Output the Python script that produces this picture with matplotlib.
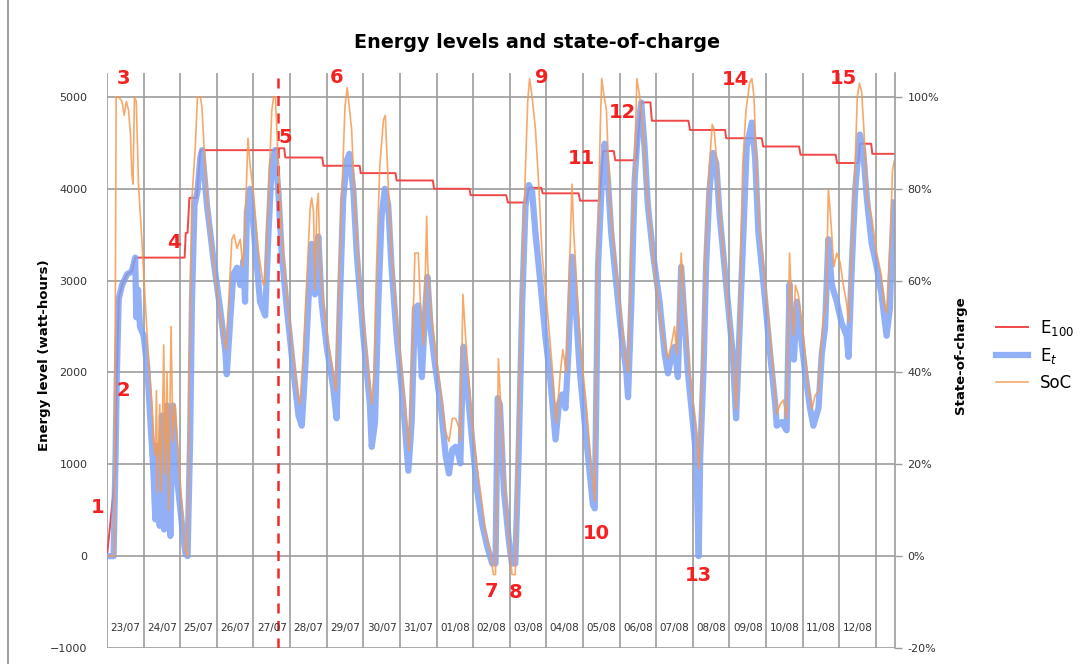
import numpy as np
import matplotlib.pyplot as plt

# time axis in days from 23/07 00:00
day_labels = ['23/07', '24/07', '25/07', '26/07', '27/07', '28/07', '29/07', '30/07',
              '31/07', '01/08', '02/08', '03/08', '04/08', '05/08', '06/08', '07/08',
              '08/08', '09/08', '10/08', '11/08', '12/08']

# E_t (watt-hours)
t_et = [0, 0.18, 0.23, 0.27, 0.32, 0.41, 0.55, 0.68, 0.77, 0.8, 0.85, 0.9,
        1.0, 1.1, 1.18, 1.27, 1.32, 1.36, 1.44, 1.5, 1.56, 1.64, 1.73, 1.8, 1.9,
        2.05, 2.14, 2.2, 2.27, 2.32, 2.39, 2.47, 2.55, 2.6, 2.73, 2.91,
        3.09, 3.23, 3.27, 3.36, 3.45, 3.55, 3.64, 3.73, 3.77, 3.82, 3.91,
        4.0, 4.18, 4.32, 4.41, 4.5, 4.59, 4.68, 4.77, 4.91,
        5.09, 5.23, 5.32, 5.41, 5.5, 5.59, 5.68, 5.77, 5.86,
        6.0, 6.18, 6.27, 6.36, 6.45, 6.55, 6.62, 6.73, 6.82,
        7.0, 7.18, 7.23, 7.32, 7.41, 7.5, 7.59, 7.68, 7.77, 7.91,
        8.09, 8.23, 8.32, 8.41, 8.5, 8.6, 8.68, 8.75, 8.84, 8.98,
        9.11, 9.25, 9.34, 9.43, 9.52, 9.61, 9.65, 9.73, 9.84, 9.97,
        10.11, 10.25, 10.38, 10.52, 10.61, 10.67, 10.73, 10.84, 10.98,
        11.06, 11.15, 11.24, 11.34, 11.43, 11.52, 11.61, 11.7, 11.84, 11.97,
        12.11, 12.25, 12.34, 12.43, 12.52, 12.6, 12.7, 12.79, 12.91,
        13.09, 13.27, 13.32, 13.36, 13.41, 13.5, 13.59, 13.68, 13.77, 13.91,
        14.05, 14.18, 14.23, 14.32, 14.41, 14.5, 14.59, 14.68, 14.77, 14.91,
        15.09, 15.23, 15.32, 15.41, 15.5, 15.59, 15.68, 15.77, 15.86,
        16.0, 16.09, 16.16, 16.2, 16.29, 16.36, 16.45, 16.55, 16.64, 16.73, 16.91,
        17.09, 17.18, 17.27, 17.38, 17.47, 17.61, 17.7, 17.79, 17.93,
        18.11, 18.25, 18.29, 18.43, 18.56, 18.64, 18.7, 18.76, 18.84, 18.93,
        19.06, 19.2, 19.29, 19.43, 19.52, 19.61, 19.7, 19.79, 19.93,
        20.06, 20.2, 20.25, 20.34, 20.43, 20.56, 20.65, 20.75, 20.88,
        21.02, 21.15, 21.29, 21.38, 21.43, 21.49]
et = [0, 0, 1000, 2000, 2800, 2950, 3070, 3100, 3250, 2600, 2900, 2500,
      2400, 2050, 1500, 900, 400, 1200, 330, 1530, 290, 1640, 220, 1640, 900,
      330, 30, 0, 1270, 2770, 3820, 3970, 4340, 4420, 3820, 3220,
      2690, 2240, 1980, 2540, 3070, 3140, 2950, 3220, 2770, 3740, 4000,
      3590, 2770, 2620, 3520, 4270, 4420, 3970, 3300, 2700,
      2020, 1530, 1420, 2020, 2770, 3400, 2850, 3480, 2770,
      2280, 1830, 1500, 2770, 3890, 4310, 4380, 3970, 3300,
      2400, 1650, 1190, 1460, 2770, 3710, 4000, 3820, 3150, 2400,
      1650, 930, 1460, 2700, 2730, 1950, 2600, 3040, 2470, 2020,
      1650, 1090, 900, 1160, 1190, 1090, 1010, 2280, 1830, 1270,
      710, 340, 110, -80, -80, 1720, 1650, 710, 150,
      -80, -80, 1090, 2770, 3820, 4040, 3970, 3520, 2960, 2400,
      1910, 1270, 1650, 1760, 1610, 2200, 3260, 2770, 2020,
      1270, 560, 520, 1650, 3150, 3970, 4490, 4090, 3520, 2960,
      2400, 2020, 1730, 2770, 4090, 4640, 4940, 4460, 3820, 3300,
      2770, 2200, 1990, 2170, 2280, 1950, 3150, 2590, 2020,
      1460, 1090, 0, 1090, 2020, 3150, 3970, 4390, 4270, 3710, 2960,
      2200, 1500, 2400, 3520, 4460, 4720, 4340, 3520, 2960,
      2200, 1650, 1420, 1460, 1370, 2960, 2170, 2140, 2770, 2470,
      2020, 1610, 1420, 1610, 2200, 2490, 3450, 2960, 2770,
      2540, 2400, 2170, 3150, 3970, 4590, 4420, 3900, 3410,
      3150, 2850, 2400, 2700, 3300, 3850]

# state-of-charge (%)
t_soc = [0, 0.2, 0.25, 0.32, 0.41, 0.47, 0.53, 0.59, 0.64, 0.68, 0.71, 0.75, 0.8, 0.86, 0.95,
         1.05, 1.14, 1.23, 1.27, 1.32, 1.35, 1.38, 1.44, 1.48, 1.55, 1.59, 1.64, 1.68, 1.75, 1.8, 1.86, 1.95,
         2.05, 2.14, 2.2, 2.25, 2.32, 2.41, 2.47, 2.55, 2.59, 2.68, 2.77, 2.91,
         3.05, 3.18, 3.25, 3.32, 3.41, 3.47, 3.55, 3.64, 3.71, 3.77, 3.85, 3.91,
         4.0, 4.14, 4.27, 4.32, 4.41, 4.5, 4.55, 4.6, 4.68, 4.77, 4.91,
         5.05, 5.18, 5.27, 5.36, 5.45, 5.55, 5.59, 5.64, 5.68, 5.73, 5.77, 5.82, 5.91,
         6.05, 6.18, 6.25, 6.32, 6.41, 6.5, 6.56, 6.68, 6.77, 6.91,
         7.09, 7.23, 7.29, 7.36, 7.45, 7.55, 7.6, 7.68, 7.77, 7.91,
         8.05, 8.18, 8.25, 8.32, 8.41, 8.5, 8.56, 8.65, 8.73, 8.76, 8.84, 8.98,
         9.11, 9.25, 9.34, 9.43, 9.52, 9.61, 9.65, 9.72, 9.79, 9.93,
         10.06, 10.2, 10.34, 10.47, 10.55, 10.61, 10.69, 10.75, 10.84, 10.98,
         11.06, 11.15, 11.22, 11.34, 11.43, 11.49, 11.54, 11.61, 11.7, 11.79, 11.88,
         12.02, 12.15, 12.27, 12.38, 12.45, 12.54, 12.6, 12.7, 12.75, 12.88, 12.95,
         13.09, 13.23, 13.32, 13.36, 13.41, 13.47, 13.51, 13.56, 13.64, 13.73, 13.86,
         14.0, 14.14, 14.23, 14.32, 14.41, 14.47, 14.55, 14.64, 14.73, 14.86,
         15.0, 15.18, 15.32, 15.41, 15.5, 15.56, 15.68, 15.77, 15.91,
         16.05, 16.11, 16.16, 16.2, 16.29, 16.36, 16.45, 16.53, 16.58, 16.64, 16.73, 16.91,
         17.09, 17.18, 17.27, 17.36, 17.45, 17.55, 17.61, 17.67, 17.75, 17.84, 17.93,
         18.06, 18.2, 18.29, 18.38, 18.47, 18.56, 18.64, 18.7, 18.75, 18.8, 18.88,
         19.02, 19.15, 19.25, 19.34, 19.43, 19.55, 19.64, 19.7, 19.76, 19.85, 19.93,
         20.02, 20.11, 20.2, 20.25, 20.34, 20.43, 20.49, 20.55, 20.61, 20.67, 20.76, 20.88,
         21.02, 21.15, 21.22, 21.29, 21.34, 21.4, 21.45, 21.5]
soc = [0, 0, 100, 100, 99, 96, 99, 97, 92, 83, 81, 100, 99, 81, 69,
       55, 42, 33, 25, 22, 36, 14, 33, 14, 46, 18, 40, 10, 50, 25, 33, 22,
       10, 1, 0, 40, 78, 89, 100, 100, 98, 85, 74, 64,
       55, 48, 45, 55, 69, 70, 67, 69, 63, 72, 91, 85,
       79, 66, 59, 60, 78, 97, 100, 100, 85, 70, 57,
       46, 37, 33, 44, 59, 76, 78, 75, 58, 76, 79, 63, 55,
       46, 40, 36, 55, 78, 98, 102, 93, 76, 59,
       44, 33, 40, 63, 85, 95, 96, 81, 66, 52,
       40, 29, 23, 40, 66, 66, 55, 46, 74, 63, 54, 44,
       36, 27, 25, 30, 30, 28, 25, 57, 48, 33,
       22, 14, 5, 1, -4, -4, 43, 33, 18, 3,
       -4, -4, 25, 59, 85, 99, 104, 100, 93, 81, 66,
       54, 42, 29, 40, 45, 40, 55, 81, 70, 52, 44,
       33, 19, 12, 40, 70, 93, 104, 101, 97, 78, 66,
       55, 44, 40, 66, 85, 104, 100, 93, 81, 70,
       59, 48, 43, 46, 50, 44, 66, 55, 40,
       31, 27, 19, 25, 48, 70, 85, 94, 93, 87, 76, 59,
       44, 32, 50, 85, 97, 103, 104, 100, 81, 70, 63,
       52, 40, 31, 33, 34, 30, 66, 54, 48, 59, 57,
       48, 37, 32, 35, 36, 51, 55, 80, 74, 63, 66,
       64, 59, 55, 51, 66, 85, 100, 103, 101, 93, 78, 74,
       66, 61, 55, 53, 61, 70, 84, 86]

# E_100 (watt-hours)
t_e100 = [0, 0.2, 0.23, 0.27, 0.32, 0.41, 0.55, 0.68, 0.77, 2.12, 2.15, 2.2, 2.25, 2.45, 2.55,
          4.59, 4.62, 4.84, 4.87, 5.88, 5.91, 6.9, 6.93, 7.88, 7.91, 8.9, 8.93, 9.9, 9.93,
          10.9, 10.95, 11.45, 11.52, 11.86, 11.9, 12.88, 12.92, 13.45, 13.55, 13.84, 13.88,
          14.45, 14.59, 14.84, 14.88, 15.88, 15.92, 16.88, 16.91, 17.88, 17.92, 18.9, 18.94,
          19.9, 19.94, 20.52, 20.56, 20.87, 20.9, 21.49]
e100 = [0, 800, 1000, 2000, 2800, 2950, 3070, 3100, 3250, 3250, 3520, 3520, 3900, 3900, 4420,
        4420, 4440, 4440, 4340, 4340, 4250, 4250, 4170, 4170, 4090, 4090, 4000, 4000, 3930,
        3930, 3850, 3850, 4010, 4010, 3950, 3950, 3870, 3870, 4410, 4410, 4310,
        4310, 4940, 4940, 4740, 4740, 4640, 4640, 4550, 4550, 4460, 4460, 4370,
        4370, 4280, 4280, 4490, 4490, 4380, 4380]

# numbered events
event_labels = ['1', '2', '3', '4', '5', '6', '7', '8', '9', '10', '11', '12', '13', '14', '15']
event_t = [-0.25, 0.44, 0.44, 1.83, 4.86, 6.28, 10.49, 11.17, 11.88, 13.35, 12.97, 14.09, 16.14, 17.15, 20.1]
event_e = [530, 1800, 5200, 3410, 4553, 5207, -381, -392, 5207, 250, 4325, 4826, -207, 5185, 5196]

t_marker = 4.67   # dashed vertical line

fig = plt.figure(figsize=(10.85, 6.64), dpi=100)
ax = fig.add_axes([107 / 1085, 16 / 664, 788 / 1085, 575 / 664])
ax2 = ax.twinx()

grid_col = '#9c9c9c'
ax.set_xlim(0, 21.52)
ax.set_ylim(-1000, 5260)
ax2.set_ylim(-20, 105.2)
ax.set_xticks(range(22))
ax.set_yticks(range(-1000, 5001, 1000))
ax2.set_yticks(range(-20, 101, 20))
ax.grid(True, color=grid_col, lw=1.2)
ax.set_axisbelow(True)
ax.tick_params(axis='x', length=0, labelbottom=False)
ax.tick_params(axis='y', length=0, pad=14, labelsize=8, labelcolor='#333333')
ax2.tick_params(axis='y', length=5, width=1.0, color=grid_col, pad=4, labelsize=8, labelcolor='#333333')
ax2.set_yticklabels(['%d%%' % v for v in range(-20, 101, 20)])
for s in ['top', 'left', 'bottom']:
    ax.spines[s].set_visible(False)
    ax2.spines[s].set_visible(False)
ax.spines['right'].set_visible(False)
ax2.spines['right'].set_color(grid_col)
ax2.spines['right'].set_linewidth(1.2)

l1, = ax.plot(t_e100, e100, color='#F04848', lw=1.4, label='E$_{100}$')
l2, = ax.plot(t_et, et, color='#7FA2F5', lw=4.5, alpha=0.85, solid_joinstyle='round', label='E$_t$')
l3, = ax2.plot(t_soc, soc, color='#F59A50', lw=1.2, alpha=0.85, label='SoC')

ax.axvline(t_marker, color='#F02A2A', lw=1.8, ls=(0, (4, 3)))

for i, lab in enumerate(day_labels):
    ax.text(i + 0.5, -785, lab, ha='center', va='center', fontsize=7.5, color='#333333')

for lab, x, y in zip(event_labels, event_t, event_e):
    ax.text(x, y, lab, ha='center', va='center', fontsize=14, fontweight='bold',
            color='#F52020', clip_on=False)

fig.text(537 / 1085, 1 - 42 / 664, 'Energy levels and state-of-charge', ha='center', va='center',
         fontsize=13.8, fontweight='bold')
fig.text(45 / 1085, 1 - 355 / 664, 'Energy level (watt-hours)', rotation=90, ha='center',
         va='center', fontsize=9.5, fontweight='bold')
fig.text(960 / 1085, 1 - 355 / 664, 'State-of-charge', rotation=90, ha='center',
         va='center', fontsize=9.5, fontweight='bold')

fig.legend([l1, l2, l3], [l1.get_label(), l2.get_label(), l3.get_label()], loc='center',
           bbox_to_anchor=(1035 / 1085, 1 - 355 / 664), frameon=False, fontsize=12,
           handlelength=1.9, handletextpad=0.7, labelspacing=0.5)

fig.add_artist(plt.Line2D([8 / 1085, 8 / 1085], [0, 1], color='#a0a0a0', lw=1.5))

fig.savefig('out.png', dpi=100)
